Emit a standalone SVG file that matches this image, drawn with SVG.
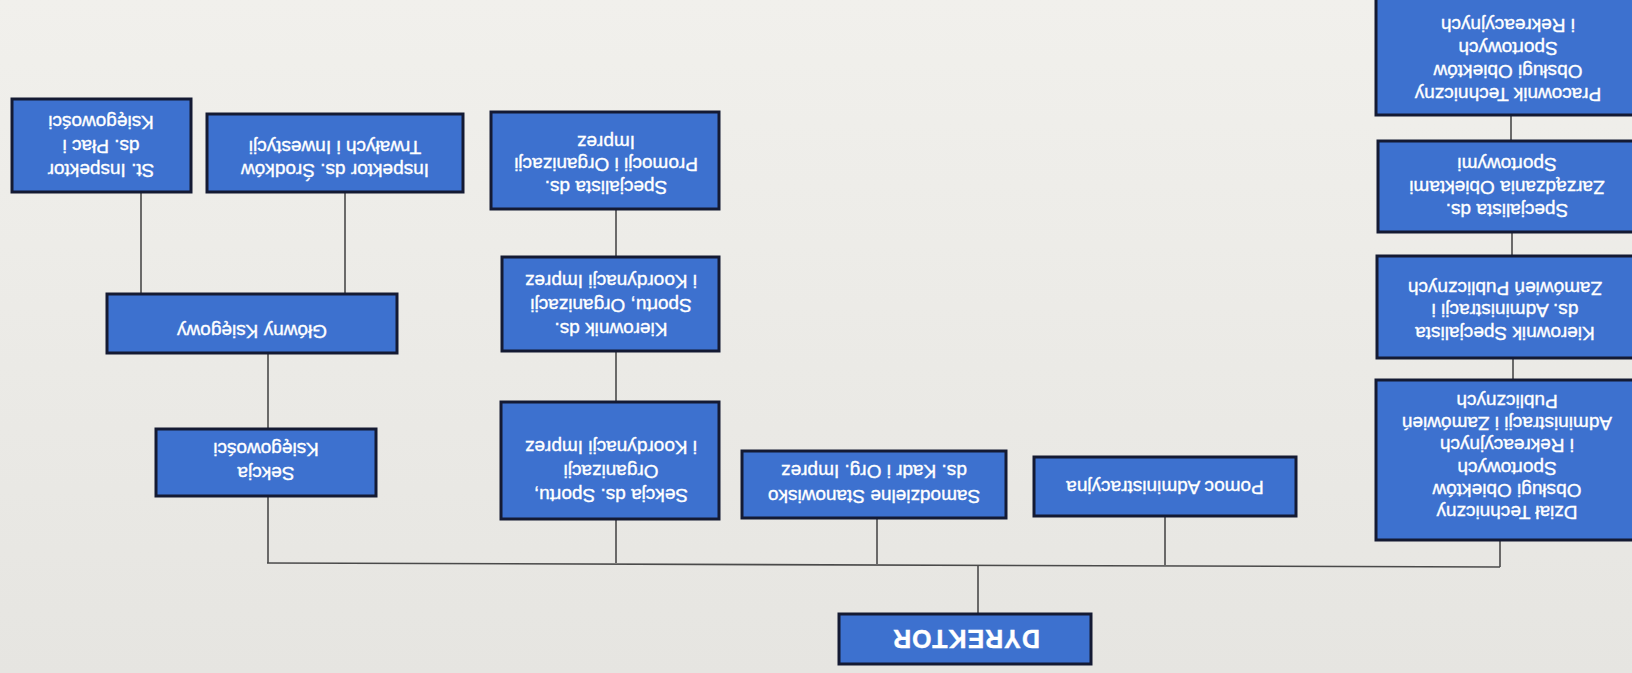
<svg xmlns="http://www.w3.org/2000/svg" width="1632" height="673" viewBox="0 0 1632 673">
<defs>
<linearGradient id="bg" x1="0" y1="0" x2="0" y2="1">
<stop offset="0" stop-color="#f1f0ec"/>
<stop offset="1" stop-color="#e6e5e1"/>
</linearGradient>
</defs>
<style>
.box{fill:#3d71cf;stroke:#141a33;stroke-width:3}
.t{font-family:"Liberation Sans",Arial,sans-serif;font-size:19px;fill:#ffffff;stroke:#ffffff;stroke-width:0.35;text-anchor:middle;dominant-baseline:central}
.tb{font-family:"Liberation Sans",Arial,sans-serif;font-size:25px;font-weight:bold;fill:#ffffff;stroke:#ffffff;stroke-width:0.4;text-anchor:middle;dominant-baseline:central;letter-spacing:1px}
.c{stroke:#4a4a4a;stroke-width:1.6;fill:none}
</style>
<rect x="0" y="0" width="1632" height="673" fill="url(#bg)"/>

<g id="connectors">
<line class="c" x1="141" y1="192" x2="141" y2="294"/>
<line class="c" x1="345" y1="192" x2="345" y2="294"/>
<line class="c" x1="268" y1="353" x2="268" y2="429"/>
<line class="c" x1="268" y1="496" x2="268" y2="563"/>
<line class="c" x1="616" y1="209" x2="616" y2="257"/>
<line class="c" x1="616" y1="351" x2="616" y2="402"/>
<line class="c" x1="616" y1="519" x2="616" y2="563"/>
<line class="c" x1="877" y1="518" x2="877" y2="564"/>
<line class="c" x1="1165" y1="516" x2="1165" y2="565"/>
<line class="c" x1="1500" y1="540" x2="1500" y2="567"/>
<line class="c" x1="267" y1="563" x2="1500" y2="567"/>
<line class="c" x1="978" y1="565" x2="978" y2="614"/>
<line class="c" x1="1511" y1="115" x2="1511" y2="141"/>
<line class="c" x1="1512" y1="232" x2="1512" y2="256"/>
<line class="c" x1="1513" y1="358" x2="1513" y2="380"/>
</g>

<g id="n_st_inspektor">
<rect class="box" x="12" y="99" width="179" height="93"/>
<text class="t" transform="rotate(180 101 147)"><tspan x="101" y="123">St. Inspektor</tspan><tspan x="101" y="147">ds. Płac i</tspan><tspan x="101" y="171">Księgowości</tspan></text>
</g>

<g id="n_inspektor_srodkow">
<rect class="box" x="207" y="114" width="256" height="78"/>
<text class="t" transform="rotate(180 335 159)"><tspan x="335" y="147.5">Inspektor ds. Środków</tspan><tspan x="335" y="170.5">Trwałych i Inwestycji</tspan></text>
</g>

<g id="n_glowny_ksiegowy">
<rect class="box" x="107" y="294" width="290" height="59"/>
<text class="t" transform="rotate(180 252 332)"><tspan x="252" y="332">Główny Księgowy</tspan></text>
</g>

<g id="n_sekcja_ksiegowosci">
<rect class="box" x="156" y="429" width="220" height="67"/>
<text class="t" transform="rotate(180 266 462)"><tspan x="266" y="450">Sekcja</tspan><tspan x="266" y="474">Księgowości</tspan></text>
</g>

<g id="n_specjalista_promocji">
<rect class="box" x="491" y="112" width="228" height="97"/>
<text class="t" transform="rotate(180 606 165)"><tspan x="606" y="142.5">Specjalista ds.</tspan><tspan x="606" y="165">Promocji i Organizacji</tspan><tspan x="606" y="187.5">Imprez</tspan></text>
</g>

<g id="n_kierownik_sportu">
<rect class="box" x="502" y="257" width="217" height="94"/>
<text class="t" transform="rotate(180 611 306)"><tspan x="611" y="282">Kierownik ds.</tspan><tspan x="611" y="306">Sportu, Organizacji</tspan><tspan x="611" y="330">i Koordynacji Imprez</tspan></text>
</g>

<g id="n_sekcja_sportu">
<rect class="box" x="501" y="402" width="218" height="117"/>
<text class="t" transform="rotate(180 611 472)"><tspan x="611" y="448">Sekcja ds. Sportu,</tspan><tspan x="611" y="472">Organizacji</tspan><tspan x="611" y="496">i Koordynacji Imprez</tspan></text>
</g>

<g id="n_samodzielne">
<rect class="box" x="742" y="451" width="264" height="67"/>
<text class="t" transform="rotate(180 874 484)"><tspan x="874" y="471.5">Samodzielne Stanowisko</tspan><tspan x="874" y="496.5">ds. Kadr i Org. Imprez</tspan></text>
</g>

<g id="n_pomoc">
<rect class="box" x="1034" y="457" width="262" height="59"/>
<text class="t" transform="rotate(180 1165 488)"><tspan x="1165" y="488">Pomoc Administracyjna</tspan></text>
</g>

<g id="n_dzial_techniczny">
<rect class="box" x="1376" y="380" width="264" height="160"/>
<text class="t" transform="rotate(180 1507 457.5)"><tspan x="1507" y="401.75">Dział Techniczny</tspan><tspan x="1507" y="424.05">Obsługi Obiektów</tspan><tspan x="1507" y="446.35">Sportowych</tspan><tspan x="1507" y="468.65">i Rekreacyjnych</tspan><tspan x="1507" y="490.95">Administracji i Zamówień</tspan><tspan x="1507" y="513.25">Publicznych</tspan></text>
</g>

<g id="n_kierownik_specjalista">
<rect class="box" x="1377" y="256" width="263" height="102"/>
<text class="t" transform="rotate(180 1505 311)"><tspan x="1505" y="288.5">Kierownik Specjalista</tspan><tspan x="1505" y="311">ds. Administracji i</tspan><tspan x="1505" y="333.5">Zamówień Publicznych</tspan></text>
</g>

<g id="n_specjalista_zarzadzania">
<rect class="box" x="1378" y="141" width="262" height="91"/>
<text class="t" transform="rotate(180 1507 188)"><tspan x="1507" y="165">Specjalista ds.</tspan><tspan x="1507" y="188">Zarządzania Obiektami</tspan><tspan x="1507" y="211">Sportowymi</tspan></text>
</g>

<g id="n_pracownik_techniczny">
<rect class="box" x="1376" y="-4" width="264" height="119"/>
<text class="t" transform="rotate(180 1508 60)"><tspan x="1508" y="25.5">Pracownik Techniczny</tspan><tspan x="1508" y="48.5">Obsługi Obiektów</tspan><tspan x="1508" y="71.5">Sportowych</tspan><tspan x="1508" y="94.5">i Rekreacyjnych</tspan></text>
</g>

<g id="n_dyrektor">
<rect class="box" x="839" y="614" width="252" height="50"/>
<text class="tb" transform="rotate(180 966 639)"><tspan x="966" y="639">DYREKTOR</tspan></text>
</g>
</svg>
